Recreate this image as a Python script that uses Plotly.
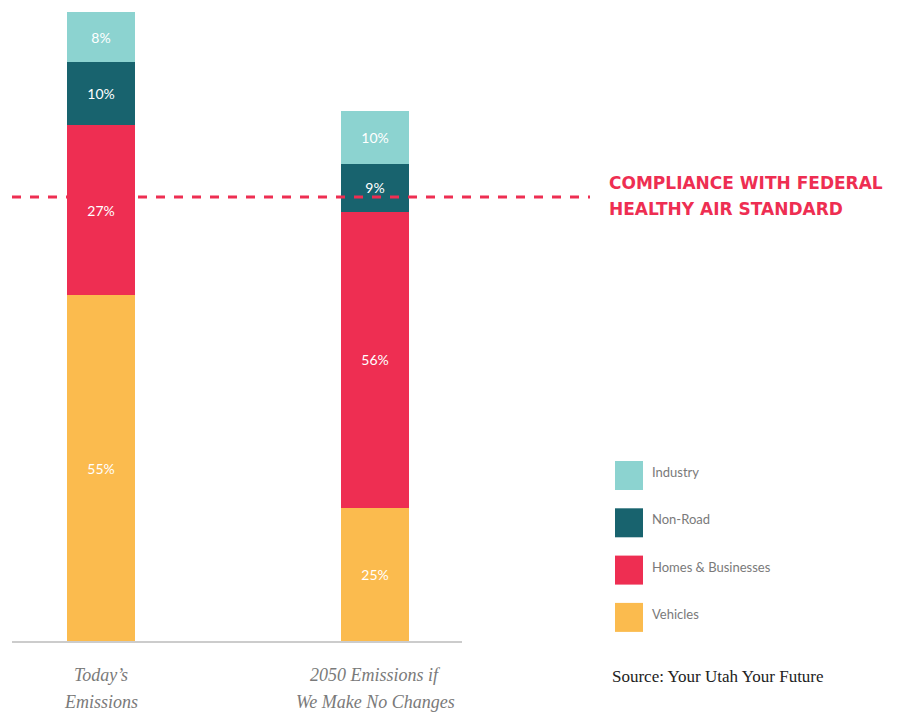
import plotly.graph_objects as go

category_lines = [["Today’s", "Emissions"], ["2050 Emissions if", "We Make No Changes"]]
bar_totals = [100, 84.3]          # relative size of each bar (today = 100)
series_names = ["Vehicles", "Homes & Businesses", "Non-Road", "Industry"]
shares = {
    "Vehicles": [55, 25],
    "Homes & Businesses": [27, 56],
    "Non-Road": [10, 9],
    "Industry": [8, 10],
}
colors = {
    "Vehicles": "#FBBB4E",
    "Homes & Businesses": "#EE2E52",
    "Non-Road": "#18636E",
    "Industry": "#8CD3D0",
}
compliance_level = 70.6
compliance_lines = ["COMPLIANCE WITH FEDERAL", "HEALTHY AIR STANDARD"]
source_text = "Source: Your Utah Your Future"

x_pos = [0, 1]
fig = go.Figure()
for name in series_names:
    vals = [s * t / 100 for s, t in zip(shares[name], bar_totals)]
    fig.add_trace(go.Bar(
        x=x_pos, y=vals, name=name,
        marker=dict(color=colors[name], line=dict(width=0)),
        width=0.248,
        text=[f"{s}%" for s in shares[name]],
        textposition="inside", insidetextanchor="middle",
        textfont=dict(family="Lato, Open Sans, sans-serif", size=14, color="#FFFFFF"),
        showlegend=False,
    ))

def py(ref_y):
    return (641 - ref_y) / 629

def px(ref_x):
    return (ref_x - 12) / 450

# dashed compliance line
fig.add_shape(type="line", xref="paper", yref="y", x0=0, x1=px(590),
              y0=compliance_level, y1=compliance_level,
              line=dict(color="#EE2E52", width=3, dash="dash"))
for i, line in enumerate(compliance_lines):
    fig.add_annotation(xref="paper", yref="paper", x=px(607), y=py(183 + 26 * i),
                       text=f"<b>{line}</b>", showarrow=False,
                       xanchor="left", yanchor="middle", align="left",
                       font=dict(family="DejaVu Sans, sans-serif", size=17, color="#EE2E52"))

# custom legend with large squares
legend_order = ["Industry", "Non-Road", "Homes & Businesses", "Vehicles"]
for i, name in enumerate(legend_order):
    top = 461 + i * 47.3
    fig.add_shape(type="rect", xref="paper", yref="paper",
                  x0=px(615), x1=px(643),
                  y0=py(top + 29), y1=py(top),
                  fillcolor=colors[name], line=dict(width=0))
    fig.add_annotation(xref="paper", yref="paper", x=px(650),
                       y=py(top + 11), text=name, showarrow=False,
                       xanchor="left", yanchor="middle",
                       font=dict(family="Lato, Open Sans, sans-serif", size=13, color="#7A7A7A"))

fig.add_annotation(xref="paper", yref="paper", x=px(610), y=py(677),
                   text=source_text, showarrow=False, xanchor="left", yanchor="middle",
                   font=dict(family="Liberation Serif, serif", size=17, color="#222222"))

# category labels
for xp, lines in zip(x_pos, category_lines):
    for j, line in enumerate(lines):
        fig.add_annotation(xref="x", yref="paper", x=xp, y=py(675 + 27 * j), text=f"<i>{line}</i>",
                           showarrow=False, xanchor="center", yanchor="middle",
                           font=dict(family="Liberation Serif, serif", size=18, color="#7A7A7A"))

fig.update_layout(
    barmode="stack",
    width=900, height=712,
    margin=dict(l=4, r=446, t=4, b=79),
    plot_bgcolor="white", paper_bgcolor="white",
    xaxis=dict(range=[-89 / 274, 361 / 274], showticklabels=False, showgrid=False,
               zeroline=False, showline=True, linecolor="#CCCCCC", linewidth=2, ticks=""),
    yaxis=dict(range=[0, 100], visible=False, showgrid=False),
)

fig.write_html("out.html")
